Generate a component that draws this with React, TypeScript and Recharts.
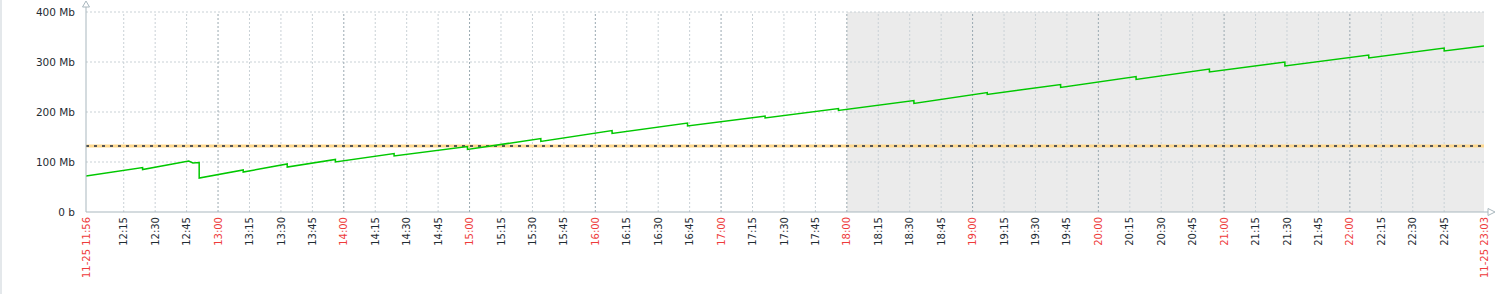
import React from "react";
import { LineChart, Line, XAxis, YAxis, ReferenceLine, ReferenceArea } from "recharts";

// Memory series (Mb): time of day and value
const POINT_TIMES = [
  "11:57", "12:24", "12:24", "12:46", "12:48", "12:51", "12:51",
  "13:12", "13:12", "13:33", "13:33", "13:56", "13:56", "14:24", "14:24",
  "14:59", "14:59", "15:34", "15:34", "16:08", "16:08", "16:44", "16:44",
  "17:21", "17:21", "17:56", "17:56", "18:32", "18:32", "19:07", "19:07",
  "19:42", "19:42", "20:18", "20:18", "20:53", "20:53", "21:29", "21:29",
  "22:09", "22:09", "22:45", "22:45", "23:04",
];
const POINT_VALUES = [
  72, 89, 85, 102, 98, 99, 68,
  84, 80, 96, 90, 105, 100, 117, 112,
  131, 125, 147, 141, 163, 157, 178, 172,
  192, 188, 207, 203, 223, 217, 239, 235,
  255, 249, 271, 265, 286, 280, 300, 292,
  314, 308, 328, 322, 332,
];

const THRESHOLD_MB = 132;

const Y_TICKS = [0, 100, 200, 300, 400];
const Y_TICK_LABELS = ["0 b", "100 Mb", "200 Mb", "300 Mb", "400 Mb"];

const X_DOMAIN = ["11:57", "23:04"];
const X_EDGE_LABELS = ["11-25 11:56", "11-25 23:03"];
const SHADED_FROM = "18:00";

const GRID_TIMES = [
  "12:15", "12:30", "12:45",
  "13:00", "13:15", "13:30", "13:45",
  "14:00", "14:15", "14:30", "14:45",
  "15:00", "15:15", "15:30", "15:45",
  "16:00", "16:15", "16:30", "16:45",
  "17:00", "17:15", "17:30", "17:45",
  "18:00", "18:15", "18:30", "18:45",
  "19:00", "19:15", "19:30", "19:45",
  "20:00", "20:15", "20:30", "20:45",
  "21:00", "21:15", "21:30", "21:45",
  "22:00", "22:15", "22:30", "22:45",
];

const TITLE = "Zabbix server: Zabbix proxy memory usage by history syncer processes (typically every day)";

const toMin = (s: string) => {
  const [h, m] = s.split(":").map(Number);
  return h * 60 + m;
};

const data = POINT_TIMES.map((t, i) => ({ t: toMin(t), v: POINT_VALUES[i] }));
const xStart = toMin(X_DOMAIN[0]);
const xEnd = toMin(X_DOMAIN[1]);
const gridMins = GRID_TIMES.map(toMin);
const xTicks = [xStart, ...gridMins, xEnd];

const FONT = "DejaVu Sans, sans-serif";
const AXIS_COLOR = "#A9B7BE";
const RED = "#EE3B3B";
const DARK = "#1F2C33";

const XTick = (props: any) => {
  const { x, y, payload } = props;
  const v = payload.value as number;
  let label: string;
  let red = false;
  if (v === xStart) {
    label = X_EDGE_LABELS[0];
    red = true;
  } else if (v === xEnd) {
    label = X_EDGE_LABELS[1];
    red = true;
  } else {
    const i = gridMins.indexOf(v);
    label = GRID_TIMES[i];
    red = label.endsWith(":00");
  }
  return (
    <text
      x={x}
      y={y}
      transform={`rotate(-90 ${x} ${y})`}
      textAnchor="end"
      dy="0.36em"
      fill={red ? RED : DARK}
      fontSize={10}
      fontFamily={FONT}
    >
      {label}
    </text>
  );
};

const YArrow = (props: any) => {
  const vb = props.viewBox || {};
  const x = vb.x + vb.width;
  const top = vb.y;
  return (
    <g>
      <line x1={x} x2={x} y1={top - 5} y2={top} stroke={AXIS_COLOR} strokeWidth={1} />
      <path
        d={`M${x - 3.5},${top - 5} L${x},${top - 11} L${x + 3.5},${top - 5} Z`}
        fill="#fff"
        stroke={AXIS_COLOR}
        strokeWidth={1}
      />
    </g>
  );
};

const XArrow = (props: any) => {
  const vb = props.viewBox || {};
  const right = vb.x + vb.width;
  const y = vb.y;
  return (
    <g>
      <line x1={right} x2={right + 4} y1={y} y2={y} stroke={AXIS_COLOR} strokeWidth={1} />
      <path
        d={`M${right + 4},${y - 3.5} L${right + 11},${y} L${right + 4},${y + 3.5} Z`}
        fill="#fff"
        stroke={AXIS_COLOR}
        strokeWidth={1}
      />
    </g>
  );
};

export default function App() {
  return (
    <div style={{ position: "absolute", left: 0, top: 0, width: 1500, height: 294, overflow: "hidden", background: "#fff" }}>
      <div
        style={{
          position: "absolute",
          left: 0,
          top: -15,
          width: 1500,
          textAlign: "center",
          fontFamily: FONT,
          fontSize: 12,
          lineHeight: "14px",
          color: DARK,
          whiteSpace: "nowrap",
        }}
      >
        {TITLE}
      </div>
      <LineChart
        width={1500}
        height={294}
        data={data}
        margin={{ top: 12, right: 16, bottom: 0, left: 0 }}
      >
        <XAxis
          dataKey="t"
          type="number"
          domain={[xStart, xEnd]}
          ticks={xTicks}
          interval={0}
          allowDataOverflow
          height={82}
          tickSize={0}
          tickMargin={5}
          tickLine={false}
          axisLine={{ stroke: AXIS_COLOR, strokeWidth: 1 }}
          tick={<XTick />}
          label={{ content: <XArrow /> } as any}
        />
        <YAxis
          type="number"
          domain={[0, 400]}
          ticks={Y_TICKS}
          interval={0}
          width={86}
          tickSize={0}
          tickMargin={11}
          tickLine={false}
          axisLine={{ stroke: AXIS_COLOR, strokeWidth: 1 }}
          tick={{ fill: DARK, fontSize: 10.5, fontFamily: FONT }}
          tickFormatter={(v: number) => Y_TICK_LABELS[Y_TICKS.indexOf(v)]}
          label={{ content: <YArrow /> } as any}
        />
        <ReferenceArea
          x1={toMin(SHADED_FROM)}
          x2={xEnd}
          fill="#EBEBEB"
          fillOpacity={1}
          stroke="none"
          ifOverflow="hidden"
        />
        {Y_TICKS.filter((v) => v > 0).map((v) => (
          <ReferenceLine
            key={"h" + v}
            y={v}
            stroke="#C9D1D6"
            strokeDasharray="2 2"
            strokeWidth={1}
          />
        ))}
        {gridMins.map((m, i) => (
          <ReferenceLine
            key={"v" + m}
            x={m}
            stroke={GRID_TIMES[i].endsWith(":00") ? "#9AA9B1" : "#C9D1D6"}
            strokeDasharray="2 2"
            strokeWidth={1}
          />
        ))}
        <ReferenceLine y={THRESHOLD_MB} stroke="#FFD98E" strokeWidth={3} />
        <ReferenceLine y={THRESHOLD_MB} stroke="#555555" strokeWidth={2} strokeDasharray="3 5" />
        <Line
          type="linear"
          dataKey="v"
          stroke="#00C800"
          strokeWidth={1.5}
          dot={false}
          activeDot={false}
          isAnimationActive={false}
        />
      </LineChart>
      <div style={{ position: "absolute", left: 0, top: 0, width: 2, height: 294, background: "#E4E8EB" }} />
    </div>
  );
}
